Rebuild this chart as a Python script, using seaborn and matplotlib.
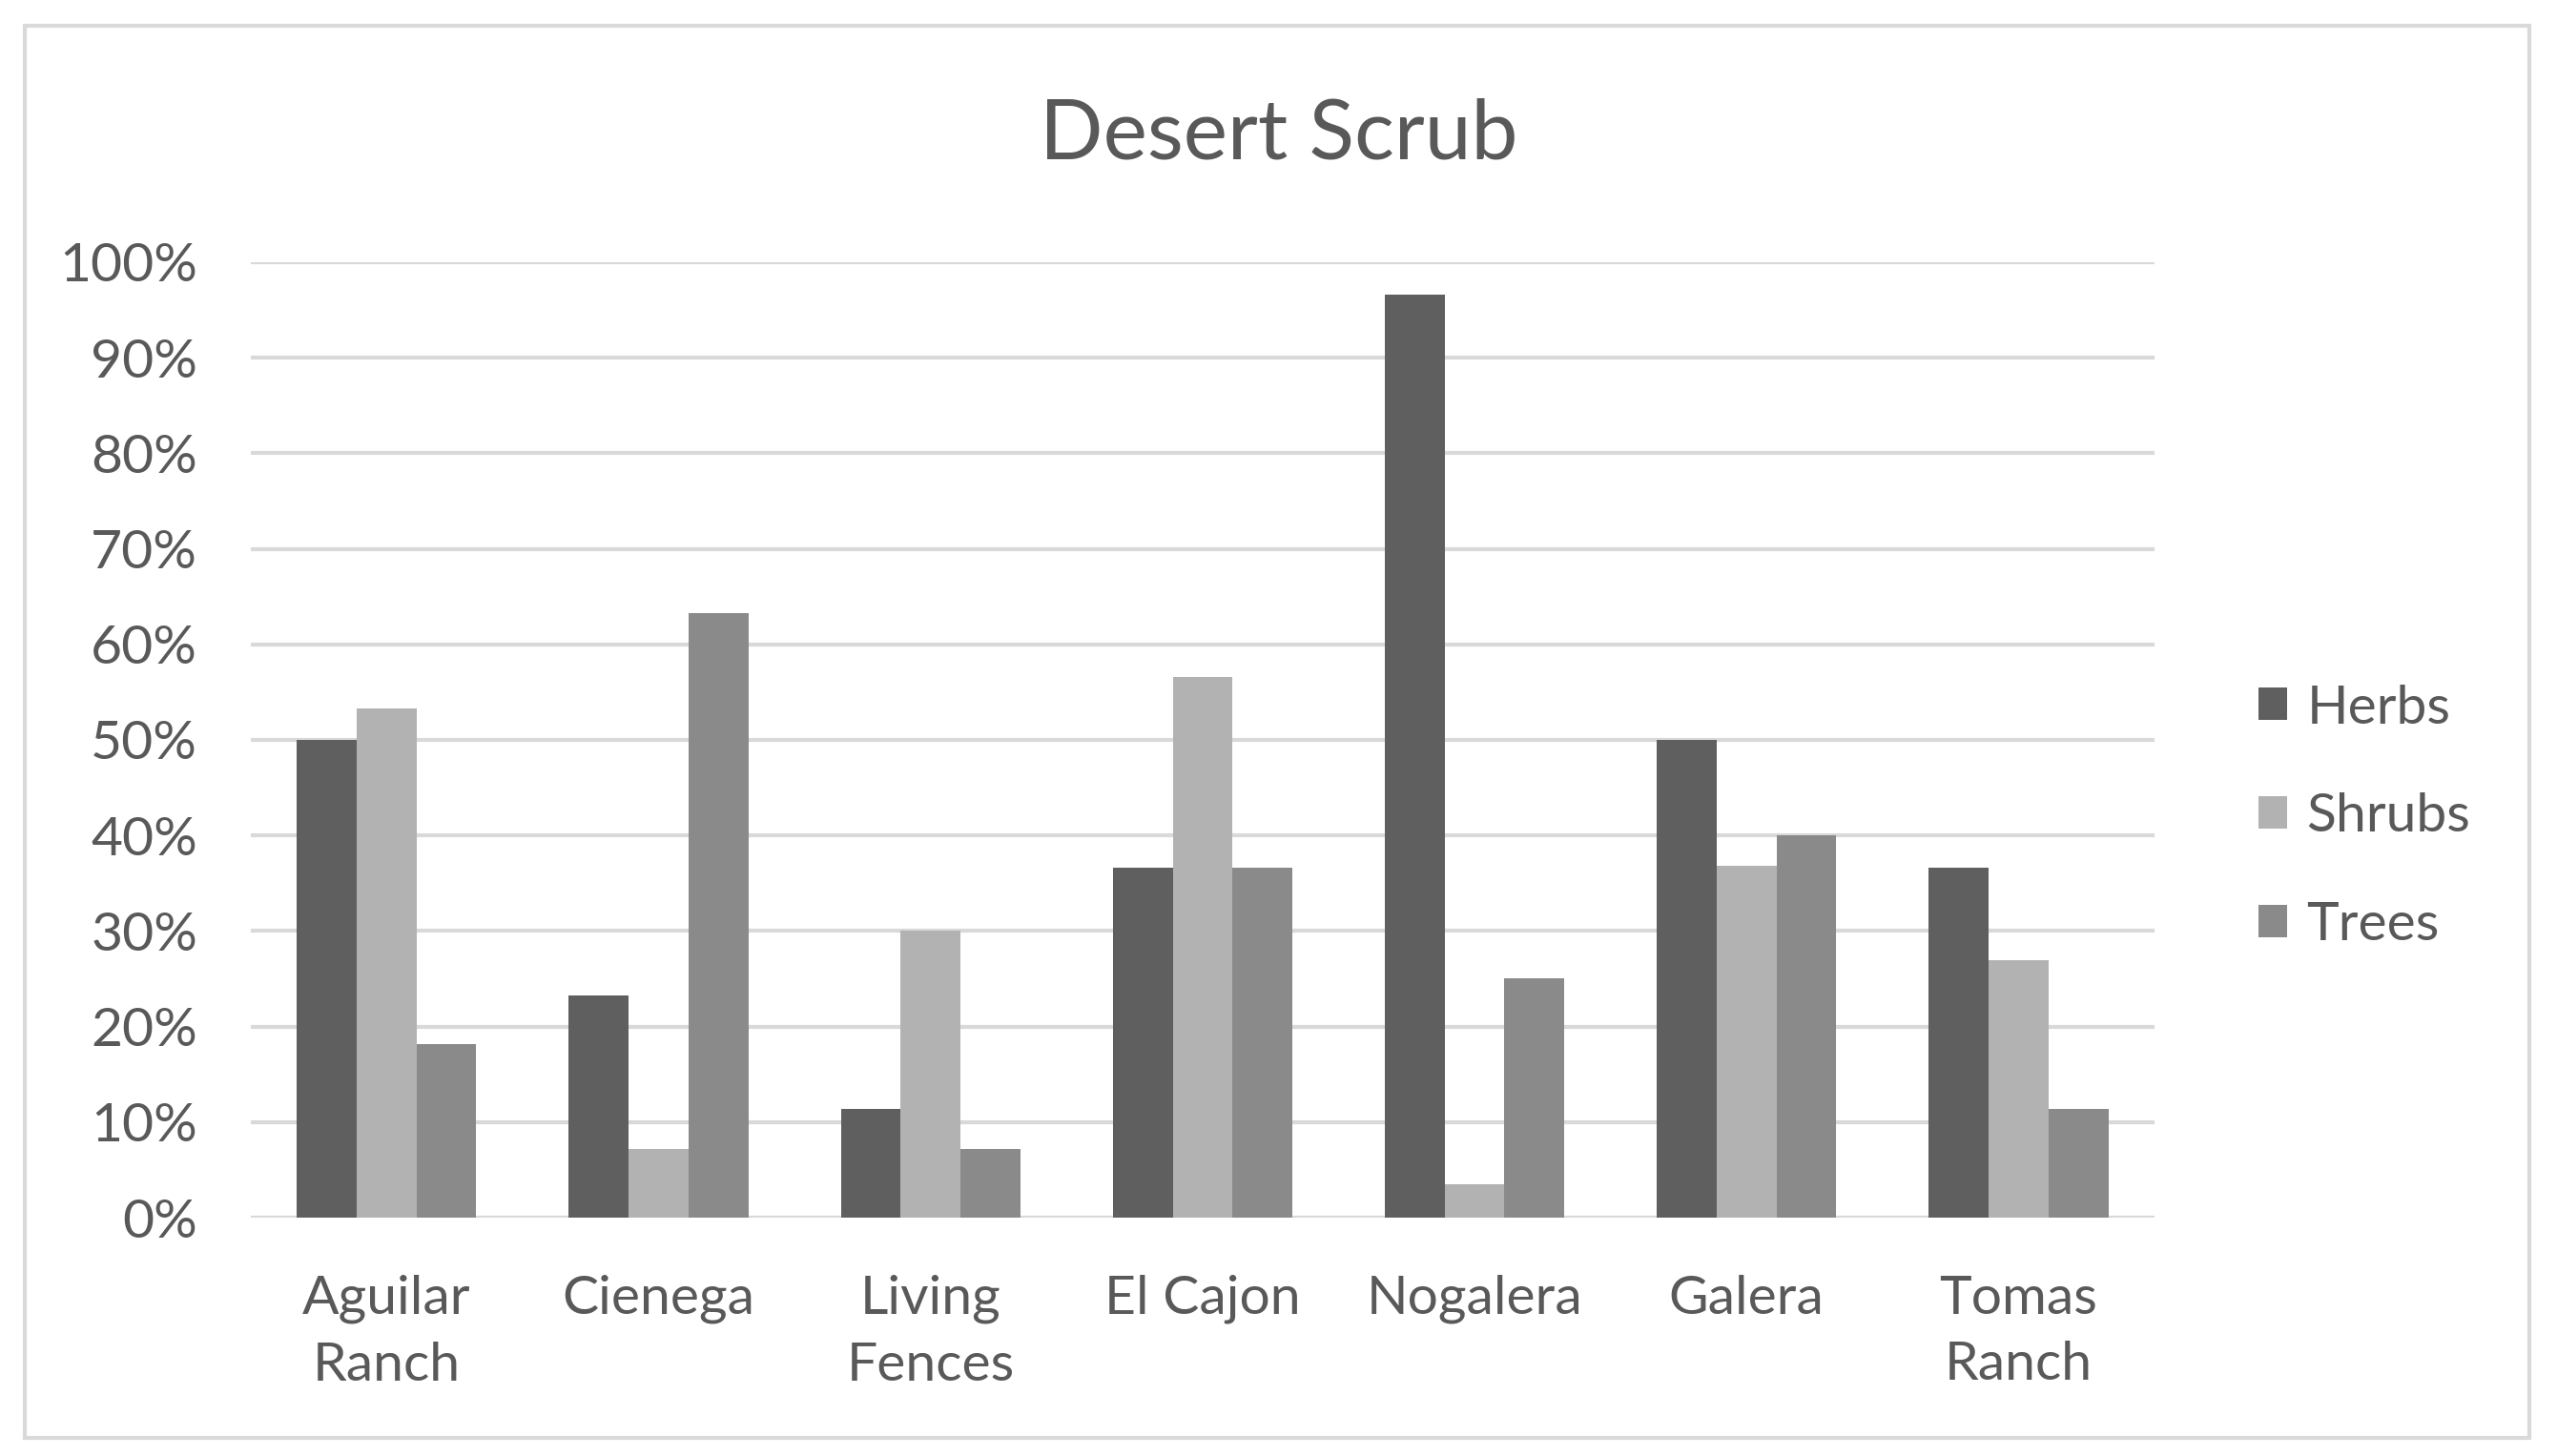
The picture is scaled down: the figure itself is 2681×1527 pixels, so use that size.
import matplotlib
matplotlib.use("Agg")
import matplotlib.pyplot as plt
import seaborn as sns
import pandas as pd
from matplotlib.patches import Rectangle
from matplotlib.ticker import PercentFormatter

sites = ["Aguilar\nRanch", "Cienega", "Living\nFences", "El Cajon", "Nogalera", "Galera", "Tomas\nRanch"]
herbs = [50.0, 23.3, 11.4, 36.6, 96.6, 50.0, 36.6]
shrubs = [53.3, 7.2, 30.0, 56.6, 3.5, 36.8, 26.9]
trees = [18.2, 63.3, 7.2, 36.6, 25.0, 40.0, 11.4]
series = ["Herbs", "Shrubs", "Trees"]
colors = ["#5f5f5f", "#b2b2b2", "#8a8a8a"]

df = pd.DataFrame({"site": sites, "Herbs": herbs, "Shrubs": shrubs, "Trees": trees})
long = df.melt(id_vars="site", var_name="type", value_name="pct")

sns.set_theme(style="white")
plt.rcParams["font.family"] = ["Lato", "DejaVu Sans"]
text_color = "#595959"

fig = plt.figure(figsize=(26.81, 15.27), dpi=100)
ax = fig.add_axes([0.098, 0.1637, 0.7446, 0.6563])

sns.barplot(data=long, x="site", y="pct", hue="type", hue_order=series,
            palette=colors, order=sites, width=0.66, gap=0, saturation=1,
            edgecolor="none", linewidth=0, ax=ax, zorder=3)

ax.set_ylim(0, 100)
ax.set_xlim(-0.5, len(sites) - 0.5)
ax.set_yticks(range(0, 101, 10))
ax.yaxis.set_major_formatter(PercentFormatter(decimals=0))
ax.grid(axis="y", color="#d9d9d9", linewidth=3, zorder=0)
ax.set_axisbelow(True)
for s in ax.spines.values():
    s.set_visible(False)
ax.set_xlabel("")
ax.set_ylabel("")
ax.tick_params(axis="y", length=0, pad=40, labelsize=41, labelcolor=text_color)
ax.tick_params(axis="x", length=0, pad=43, labelsize=41, labelcolor=text_color)
for lbl in ax.get_xticklabels():
    lbl.set_linespacing(1.45)

ax.legend(loc="center left", bbox_to_anchor=(0.8746, 0.439), bbox_transform=fig.transFigure,
          frameon=False, fontsize=41, labelcolor=text_color, handlelength=0.54, handleheight=0.54,
          handletextpad=0.35, labelspacing=1.1, borderaxespad=0)

fig.text(0.5, 0.907, "Desert Scrub", ha="center", va="center", fontsize=63, color=text_color)

fig.patches.append(Rectangle((26 / 2681, 1 - 1508 / 1527), (2652 - 26) / 2681, (1508 - 27) / 1527,
                             transform=fig.transFigure, fill=False, edgecolor="#d9d9d9", linewidth=3))

fig.savefig("out.png", dpi=100, facecolor="white")
